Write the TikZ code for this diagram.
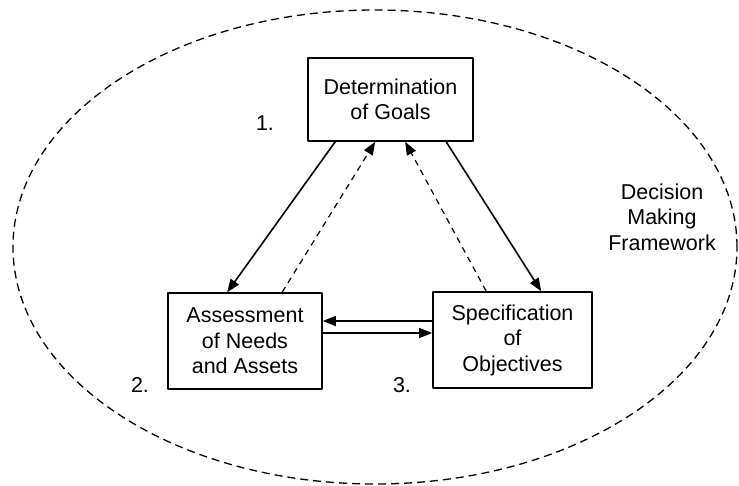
\documentclass[tikz,border=0pt]{standalone}
\usepackage{fontspec}
\setmainfont{Liberation Sans}
\usepackage{tikz}
\usetikzlibrary{arrows.meta,positioning}

\begin{document}
\begin{tikzpicture}[x=1pt,y=-1pt,line join=round,
  stagebox/.style={draw,line width=1.6pt,inner sep=0pt,align=center,
    font=\fontsize{21.5}{25.5}\selectfont},
  tag/.style={font=\fontsize{21.5}{25.5}\selectfont,inner sep=0pt},
  flow/.style={line width=1.6pt,-{Triangle[length=13pt,width=10pt]}},
  feedback/.style={line width=1.2pt,dash pattern=on 6pt off 5pt,-{Triangle[length=13pt,width=10pt]}}]
\useasboundingbox (0,0) rectangle (739,485);
% the framework round the three stages
\draw[line width=1.3pt,dash pattern=on 8pt off 5pt] (375,247) ellipse [x radius=362pt,y radius=237pt];
\node[stagebox,minimum width=165pt,minimum height=83pt] (goals) at (390.5,99.5) {Determination\\of Goals};
\node[stagebox,minimum width=154pt,minimum height=96pt] (needs) at (245,341) {Assessment\\of Needs\\and Assets};
\node[stagebox,minimum width=159pt,minimum height=96pt] (objs) at (512.5,340) {Specification\\of\\Objectives};
\node[tag] (one) at (265,123) {1.};
\node[tag] (two) at (140,385) {2.};
\node[tag] (three) at (402,385) {3.};
\node[tag,align=center] (frame) at (662,217) {Decision\\Making\\Framework};
% forward steps (solid) and feedback (dashed)
\draw[flow] ([xshift=28pt]goals.south west) -- ([xshift=60pt]needs.north west);
\draw[feedback] ([xshift=115pt]needs.north west) -- ([xshift=68pt]goals.south west);
\draw[feedback] ([xshift=54pt]objs.north west) -- ([xshift=98pt]goals.south west);
\draw[flow] ([xshift=139pt]goals.south west) -- ([xshift=109pt]objs.north west);
\draw[flow] ([yshift=19pt]objs.west) -- ([yshift=19pt]objs.west -| needs.east);
\draw[flow] ([yshift=8pt]needs.east) -- ([yshift=8pt]needs.east -| objs.west);
\end{tikzpicture}
\end{document}
